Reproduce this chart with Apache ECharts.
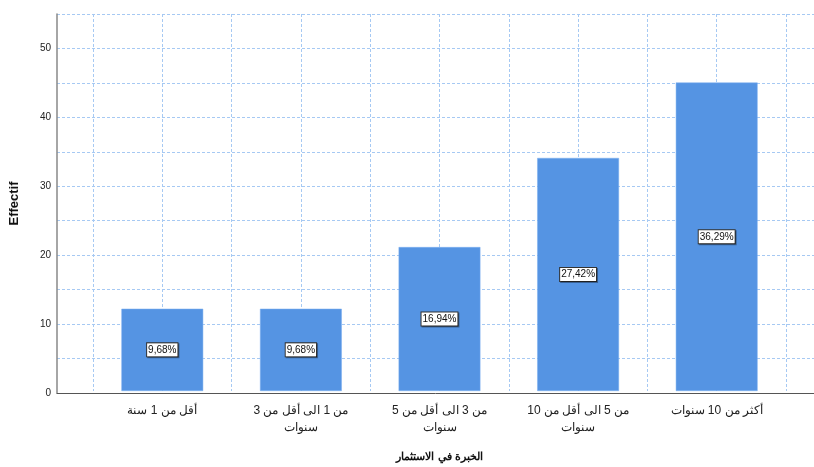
<!DOCTYPE html>
<html>
<head>
<meta charset="utf-8">
<script src="https://cdn.jsdelivr.net/npm/echarts@6/dist/echarts.min.js"></script>
<style>
  html, body { margin: 0; padding: 0; background: #fff; }
  #chart { width: 814px; height: 467px; }
</style>
</head>
<body>
<div id="chart"></div>
<script>
// Experience categories (x axis)
const categories = [
  'أقل من 1 سنة',
  'من 1 الى أقل من 3\nسنوات',
  'من 3 الى أقل من 5\nسنوات',
  'من 5 الى أقل من 10\nسنوات',
  'أكثر من 10 سنوات'
];
// Counts per category
const counts = [12, 12, 21, 34, 45];
// Share of the total, as printed on the bars
const percentLabels = ['9,68%', '9,68%', '16,94%', '27,42%', '36,29%'];
// Y axis ticks
const yTicks = [0, 10, 20, 30, 40, 50];

const gridBlue = '#a6c9f3';
const font = 'Liberation Sans, Arial, sans-serif';

const chart = echarts.init(document.getElementById('chart'), null, { renderer: 'canvas' });

chart.setOption({
  animation: false,
  backgroundColor: '#ffffff',
  grid: [
    // outer frame: y axis, horizontal grid lines, baseline
    { left: 55, right: 0, top: 14, bottom: 74 },
    // inner band holding the categories
    { left: 93, right: 28, top: 14, bottom: 74 }
  ],
  xAxis: [
    {
      type: 'value', gridIndex: 0, min: 0, max: 1,
      axisLine: { show: true, onZero: false, lineStyle: { color: '#555', width: 1 } },
      axisTick: { show: false }, axisLabel: { show: false }, splitLine: { show: false }
    },
    {
      type: 'category', gridIndex: 1, data: categories, position: 'bottom',
      axisLine: { show: false }, axisTick: { show: false },
      splitLine: { show: false },
      axisLabel: {
        interval: 0, margin: 11, color: '#222', fontFamily: font, fontSize: 12,
        lineHeight: 17
      },
      name: 'الخبرة في الاستثمار',
      nameLocation: 'middle', nameGap: 60,
      nameTextStyle: { fontFamily: font, fontSize: 11, fontWeight: 'bold', color: '#111' }
    },
    {
      // vertical guide lines at category centres and boundaries
      type: 'value', gridIndex: 1, min: 0, max: 10, interval: 1, position: 'top',
      axisLine: { show: false }, axisTick: { show: false }, axisLabel: { show: false },
      splitLine: { show: true, lineStyle: { color: gridBlue, type: [3, 2], width: 1 } }
    }
  ],
  yAxis: [
    {
      type: 'value', gridIndex: 0, min: 0, max: 55, interval: 5,
      axisLine: { show: true, lineStyle: { color: '#888', width: 1.5 } },
      axisTick: { show: false },
      axisLabel: {
        color: '#222', fontFamily: font, fontSize: 10, margin: 6,
        formatter: v => (yTicks.includes(v) ? String(v) : '')
      },
      splitLine: { show: true, lineStyle: { color: gridBlue, type: [3, 2], width: 1 } },
      name: 'Effectif', nameLocation: 'middle', nameGap: 36, nameRotate: 90,
      nameTextStyle: { fontFamily: font, fontSize: 13, fontWeight: 'bold', color: '#111' }
    },
    {
      type: 'value', gridIndex: 1, min: 0, max: 55, interval: 5,
      axisLine: { show: false }, axisTick: { show: false }, axisLabel: { show: false },
      splitLine: { show: false }
    }
  ],
  series: [
    {
      type: 'bar',
      xAxisIndex: 1, yAxisIndex: 1,
      data: counts,
      barWidth: '59%',
      itemStyle: { color: '#5594e3', borderColor: '#7aaef0', borderWidth: 0.5 },
      label: {
        show: true, position: 'inside',
        formatter: p => percentLabels[p.dataIndex],
        backgroundColor: '#ffffff', borderColor: '#333', borderWidth: 1,
        padding: [2, 1, 1, 1], color: '#111', fontFamily: font, fontSize: 10,
        shadowColor: 'rgba(0,0,0,0.35)', shadowOffsetX: 1, shadowOffsetY: 1, shadowBlur: 0
      }
    }
  ]
});
</script>
</body>
</html>
